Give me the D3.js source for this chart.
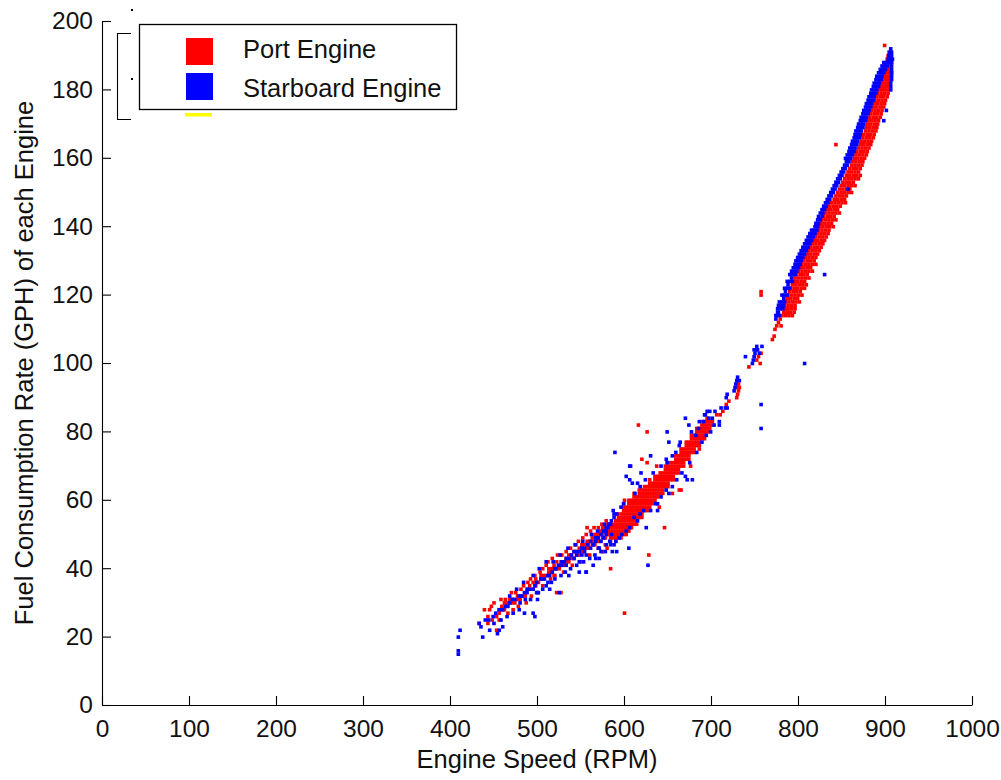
<!DOCTYPE html>
<html><head><meta charset="utf-8">
<script src="https://cdn.jsdelivr.net/npm/d3@7"></script>
<style>
html,body{margin:0;padding:0;background:#fff;}
svg{display:block;font-family:"Liberation Sans",Arial,sans-serif;}
</style></head><body>
<svg id="chart" width="1001" height="780"></svg>
<script>
// ---------------- DATA ----------------
const xTicks = [0,100,200,300,400,500,600,700,800,900,1000];
const yTicks = [0,20,40,60,80,100,120,140,160,180,200];
const xLabel = "Engine Speed (RPM)";
const yLabel = "Fuel Consumption Rate (GPH) of each Engine";
const seriesNames = ["Port Engine","Starboard Engine"];
const seriesColors = ["#ff0000","#0000ff"];

// Port engine, low-speed part: [rpm, [gph values]]
const portLower = [[433,[24]],[439,[28]],[443,[24,26]],[445,[28]],[448,[25]],[453,[22,26]],[456,[25,27,28]],[459,[28,29]],[462,[28,30]],[465,[29,30]],[468,[30,31]],[471,[30,31]],[474,[30]],[477,[31,32]],[480,[31,32]],[483,[32]],[486,[32,33]],[489,[34,36]],[491,[35]],[495,[34,36]],[498,[35,37]],[501,[36]],[504,[37,38]],[507,[37,38]],[510,[38,41]],[513,[39,40]],[516,[39,40]],[519,[38,40,41]],[522,[33,40,42]],[525,[40,41]],[527,[33,41,42]],[530,[41,42]],[533,[42,43]],[536,[42,44]],[539,[43,44]],[542,[43,45]],[545,[44,45]],[548,[44,46]],[551,[45,46,47]],[554,[45,47]],[557,[46,47,48]],[560,[46,48]],[563,[47,48,49]],[566,[47,49,50]],[569,[48,49,50]],[572,[48,50,51]],[575,[49,50,51,52]],[578,[49,51,52]],[581,[50,51,53]]];
const portLowerScatter = [[447,29],[450,30],[458,31],[463,31],[470,33],[475,33],[481,34],[484,35],[492,37],[497,38],[503,39],[506,40],[512,42],[517,43],[523,44],[528,44],[533,45],[538,46],[543,47],[547,48],[552,49],[556,50],[561,51],[565,52],[570,52],[574,53],[579,54],[466,27],[472,28],[478,29],[487,30],[493,32],[500,33],[506,35],[515,37],[520,38],[530,39],[540,41],[550,42],[560,44],[570,46],[578,47]];
// Port engine, dense band 584-701 rpm
const portDense = [[584,[48,49,50,51,52,53]],[587,[49,50,51,52,53]],[590,[49,50,51,52,53,54]],[593,[50,51,52,53,54,55]],[596,[51,52,53,54,55,56]],[599,[52,53,54,55,56,57,58]],[602,[52,53,54,55,56,57,58]],[605,[53,54,55,56,57,58,59]],[608,[54,55,56,57,58,59,60]],[611,[54,55,56,57,58,59,60,61]],[614,[55,56,57,58,59,60,61]],[617,[56,57,58,59,60,61,62]],[620,[57,58,59,60,61,62,63]],[623,[58,59,60,61,62,63]],[626,[58,59,60,61,62,63,64]],[629,[59,60,61,62,63,64,65]],[632,[60,61,62,63,64,65]],[635,[61,62,63,64,65,66]],[638,[62,63,64,65,66,67]],[641,[62,63,64,65,66,67]],[644,[63,64,65,66,67,68]],[647,[64,65,66,67,68,69]],[650,[65,66,67,68,69,70]],[653,[66,67,68,69,70]],[656,[67,68,69,70,71]],[659,[68,69,70,71,72]],[662,[69,70,71,72,73]],[665,[70,71,72,73,74]],[668,[71,72,73,74,75]],[671,[72,73,74,75,76]],[674,[73,74,75,76,77]],[677,[74,75,76,77,78]],[680,[75,76,77,78,79]],[683,[76,77,78,79,80]],[686,[77,78,79,80,81]],[689,[78,79,80,81,82]],[692,[79,80,81,82,83]],[695,[80,81,82,83]],[698,[81,82,83]],[701,[82,83]]];
const portDenseEdge = [[590,48],[593,49],[596,50],[596,49],[599,51],[599,50],[602,51],[602,50],[605,52],[605,51],[608,53],[608,52],[611,53],[614,54],[614,53],[617,55],[620,56],[620,55],[623,57],[626,57],[629,58],[632,59],[635,60],[638,61],[644,62],[650,64],[656,66],[662,68],[668,70],[674,72],[680,74],[686,76],[692,78],[599,59],[605,60],[611,62],[617,63],[623,64],[629,66],[635,67],[641,68],[647,70],[653,71],[659,73],[665,75],[671,77],[677,79],[683,81],[689,83],[695,84]];
// Port engine, 700-790 rpm: [rpm, gph]
const portGap = [[710,85],[713,86],[717,88],[720,89],[729,90],[730,91],[731,92],[732,93],[731,94],[729,93],[743,99],[752,101],[754,102],[757,103],[756,100],[770,107],[772,108],[773,110],[775,111],[777,112],[779,113],[780,111],[787,115],[787,116]];
// Port engine, high-speed part: [gph, [rpm values]]
const portUpper = [[114,[781,785,789,793]],[115,[783,787,791,795]],[116,[784,788,792,796]],[117,[784,788,792,796]],[118,[785,789,793,797,801]],[119,[787,791,795,799]],[120,[788,792,796,800,804]],[121,[790,794,798,802]],[122,[791,795,799,803,807]],[123,[793,797,801,805,809]],[124,[795,799,803,807]],[125,[796,800,804,808,812]],[126,[798,802,806,810]],[127,[800,804,808,812,816]],[128,[802,806,810,814]],[129,[804,808,812,816,820]],[130,[806,810,814,818]],[131,[808,812,816,820]],[132,[810,814,818,822]],[133,[812,816,820,824]],[134,[814,818,822,826]],[135,[816,820,824,828]],[136,[818,822,826,830]],[137,[820,824,828,832]],[138,[822,826,830,834]],[139,[823,827,831,835]],[140,[824,828,832,836,840]],[141,[826,830,834,838]],[142,[827,831,835,839,843]],[143,[829,833,837,841]],[144,[831,835,839,843,847]],[145,[833,837,841,845]],[146,[836,840,844,848]],[147,[838,842,846,850,854]],[148,[841,845,849,853]],[149,[843,847,851,855]],[150,[845,849,853,857,861]],[151,[847,851,855,859]],[152,[849,853,857,861,865]],[153,[851,855,859,863]],[154,[853,857,861,865,869]],[155,[855,859,863,867,871]],[156,[857,861,865,869]],[157,[859,863,867,871]],[158,[861,865,869,873]],[159,[862,866,870,874]],[160,[864,868,872,876]],[161,[866,870,874,878]],[162,[867,871,875,879]],[163,[869,873,877,881]],[164,[871,875,879,883]],[165,[872,876,880,884]],[166,[874,878,882,886]],[167,[875,879,883,887]],[168,[877,881,885,889]],[169,[878,882,886,890]],[170,[879,883,887,891]],[171,[880,884,888,892]],[172,[882,886,890,894]],[173,[883,887,891,895]],[174,[884,888,892,896]],[175,[886,890,894,898]],[176,[887,891,895,899]],[177,[888,892,896,900]],[178,[890,894,898,902]],[179,[891,895,899,903]],[180,[893,896,899,902]],[181,[894,897,900,903]],[182,[895,898,901,904]],[183,[896,899,902,905]],[184,[897,900,903,906]],[185,[898,901,904,907]],[186,[899,902,905]],[187,[900,903,906]],[188,[901,904,907]],[189,[902,905,907]],[190,[903,906]],[191,[904,906]]];
const portOutliers = [[600,27],[616,82],[626,80],[757,121],[757,120],[843,164],[899,193],[584,40],[628,44],[646,52],[557,52],[626,71],[663,63],[665,63],[637,70],[706,85],[620,72],[640,58],[600,60],[592,56],[655,62],[676,70],[686,75],[580,46],[575,45]];

// Starboard engine, low-speed part: [rpm, [gph values]]
const starLower = [[409,[15,16,20]],[411,[22]],[433,[24]],[435,[23]],[437,[20]],[440,[25]],[445,[22]],[449,[26]],[452,[27]],[454,[21]],[456,[22,28]],[460,[23,28]],[463,[29]],[466,[29]],[468,[30]],[471,[31]],[474,[31]],[479,[28,32]],[482,[32]],[485,[27,33]],[488,[33,34]],[491,[34]],[495,[27,34]],[497,[26,35]],[499,[33,36]],[501,[33]],[504,[37]],[508,[37]],[512,[36,38]],[514,[34,38]],[517,[39]],[520,[40]],[521,[40]],[524,[41]],[525,[33]],[528,[41,42]],[531,[42]],[533,[41,43]],[536,[38,43]],[539,[44]],[542,[43,45]],[545,[44,45]],[548,[39,42,45]],[551,[44,46]],[554,[45,46]],[556,[39,44]],[558,[47]],[561,[46,48]],[564,[47]],[567,[48,49]],[570,[46,49]],[573,[50]],[576,[51]],[579,[50,52]],[582,[53]],[585,[50,54]],[588,[47,55]],[591,[45,56]]];
const starLowerScatter = [[444,25],[450,24],[458,25],[465,26],[472,27],[480,30],[486,31],[492,31],[500,31],[506,34],[510,35],[516,36],[520,37],[527,38],[532,39],[538,40],[545,41],[553,42],[560,43],[566,44],[573,45],[578,45],[584,47],[468,32],[476,34],[484,36],[495,38],[502,40],[510,42],[518,42],[526,44],[535,46],[544,47],[552,48],[562,50],[569,51],[577,53]];
// Starboard engine, around the dense band: [rpm, gph]
const starMid = [[589,74],[606,70],[607,70],[630,73],[649,80],[651,77],[670,84],[674,82],[692,85],[709,82],[711,87],[716,87],[678,66],[651,62],[638,57],[625,52],[605,46],[586,45],[627,41],[556,39],[564,41],[588,56],[587,57],[609,65],[615,65],[619,68],[648,72],[649,71],[659,74],[663,76],[682,79],[686,83],[691,83],[693,85],[697,84],[701,84],[670,67],[672,66],[648,63],[636,59],[638,59],[630,57],[611,55],[615,54],[606,52],[602,51],[590,48],[594,49],[579,47],[583,48],[571,46],[567,43],[571,43],[579,51],[602,67],[606,66],[596,58],[599,59],[612,62],[618,64],[624,66],[633,68],[642,70],[655,73],[664,77],[677,80],[685,81],[695,86],[698,86],[704,86],[597,50],[618,56],[622,57],[642,61],[655,64],[660,66],[666,68],[675,71],[683,74],[689,77],[694,79],[699,80],[703,82],[573,48],[576,49],[581,52],[584,53]];
const starGap = [[717,90],[718,91],[718,87],[709,83],[726,92],[727,93],[728,94],[729,95],[730,96],[732,95],[747,100],[748,101],[749,102],[750,103],[751,104],[752,105],[753,104],[749,104],[739,102],[758,105],[755,103],[774,114],[777,115],[830,126],[807,100],[757,88],[757,81],[901,174],[898,171],[857,151]];
// Starboard engine, high-speed part: [gph, [rpm values]]
const starUpper = [[113,[774]],[114,[775,778]],[115,[776]],[116,[776,779,782]],[117,[777,780,783]],[118,[778,781,784]],[119,[783]],[120,[781,784,787]],[121,[785]],[122,[784,787,790]],[123,[788]],[124,[787,790,793]],[125,[792]],[126,[790,793,796]],[127,[792,795,798]],[128,[794,797,800]],[129,[796,799,802]],[130,[797,800,803]],[131,[799,802,805]],[132,[801,804,807]],[133,[803,806,809]],[134,[805,808,811]],[135,[807,810,813]],[136,[809,812,815]],[137,[811,814,817]],[138,[813,816,819]],[139,[815,818,821]],[140,[819,822]],[141,[820,823]],[142,[822,825]],[143,[823,827]],[144,[825,828]],[145,[827,830]],[146,[829,832]],[147,[831,834]],[148,[833,836]],[149,[835,838]],[150,[837,840]],[151,[839,842]],[152,[841,844]],[153,[843,846]],[154,[845,848]],[155,[847,850]],[156,[849,852]],[157,[851,854]],[158,[853,856]],[159,[855,858]],[160,[854,857,860]],[161,[856,859,862]],[162,[858,861,864]],[163,[859,862,865]],[164,[861,864,867]],[165,[862,865,868]],[166,[864,867,870]],[167,[865,868,871]],[168,[866,869,872]],[169,[868,871,874]],[170,[869,872,875]],[171,[871,874,877]],[172,[872,875,878]],[173,[874,877,880]],[174,[875,878,881]],[175,[877,880,883]],[176,[878,881,884]],[177,[880,883,886]],[178,[881,884,887]],[179,[883,886,889]],[180,[884,887,890,906]],[181,[886,889,892,906]],[182,[887,890,893,906]],[183,[889,892,895,907]],[184,[890,893,896,907]],[185,[892,895,898,907]],[186,[894,897,900,907]],[187,[896,899,902,907]],[188,[898,901,904,907]],[189,[903,906,908]],[190,[904,907]],[191,[905,907]],[192,[906]]];

// ---------------- DRAWING ----------------
const svg = d3.select("#chart");
const x = d3.scaleLinear().domain([0,1000]).range([102,972]);
const y = d3.scaleLinear().domain([0,200]).range([705,21]);

const fromCols = cols => cols.flatMap(([xv,ys]) => ys.map(yv => [xv,yv]));
const fromRows = rows => rows.flatMap(([yv,xs]) => xs.map(xv => [xv,yv]));

const port = [...fromCols(portLower), ...portLowerScatter, ...fromCols(portDense), ...portDenseEdge, ...portGap, ...fromRows(portUpper), ...portOutliers];
const star = [...fromCols(starLower), ...starLowerScatter, ...starMid, ...starGap, ...fromRows(starUpper)];

const m = 3.6;
[[port, seriesColors[0]], [star, seriesColors[1]]].forEach(([pts, col]) => {
  svg.append("g").selectAll("rect").data(pts).join("rect")
    .attr("x", d => x(d[0]) - m/2 + 0.5)
    .attr("y", d => y(d[1]) - m/2 + 0.5)
    .attr("width", m).attr("height", m)
    .attr("fill", col);
});

// axes (MATLAB style: inward ticks, box off)
const gx = svg.append("g").attr("transform","translate(0,705)")
  .call(d3.axisBottom(x).tickValues(xTicks).tickSize(-9).tickSizeOuter(0).tickPadding(14.5).tickFormat(d3.format("d")));
const gy = svg.append("g").attr("transform","translate(102,0)")
  .call(d3.axisLeft(y).tickValues(yTicks).tickSize(-9).tickSizeOuter(0).tickPadding(9).tickFormat(d3.format("d")));
[gx, gy].forEach(g => {
  g.attr("font-family", null).attr("font-size", null);
  g.selectAll("path,line").attr("stroke", "#000").attr("stroke-width", 1.1);
  g.selectAll("text").attr("font-size", 24.5).attr("fill", "#111");
});

svg.append("text").attr("x", 537).attr("y", 768).attr("text-anchor","middle")
  .attr("font-size", 25.5).attr("fill","#111").text(xLabel);
svg.append("text").attr("transform","translate(33,363) rotate(-90)").attr("text-anchor","middle")
  .attr("font-size", 25.5).attr("fill","#111").text(yLabel);

// legend (with the remnants of a hidden legend behind it)
const lg = svg.append("g");
lg.append("path").attr("d","M131,33.5H117.5V119.5H131").attr("fill","none").attr("stroke","#000").attr("stroke-width",1.1);
lg.append("rect").attr("x",131).attr("y",9).attr("width",2).attr("height",2).attr("fill","#000");
lg.append("rect").attr("x",131).attr("y",78).attr("width",2).attr("height",2).attr("fill","#000");
lg.append("rect").attr("x",185).attr("y",113).attr("width",27).attr("height",3.5).attr("fill","#ffff00");
lg.append("rect").attr("x",139.5).attr("y",24.5).attr("width",317).attr("height",85)
  .attr("fill","#fff").attr("stroke","#000").attr("stroke-width",1.3);
seriesNames.forEach((name,i) => {
  lg.append("rect").attr("x",186).attr("y",38 + i*35).attr("width",27).attr("height",27).attr("fill",seriesColors[i]);
  lg.append("text").attr("x",243).attr("y",58 + i*39).attr("font-size",25.5).attr("fill","#111").text(name);
});
</script>
</body></html>
